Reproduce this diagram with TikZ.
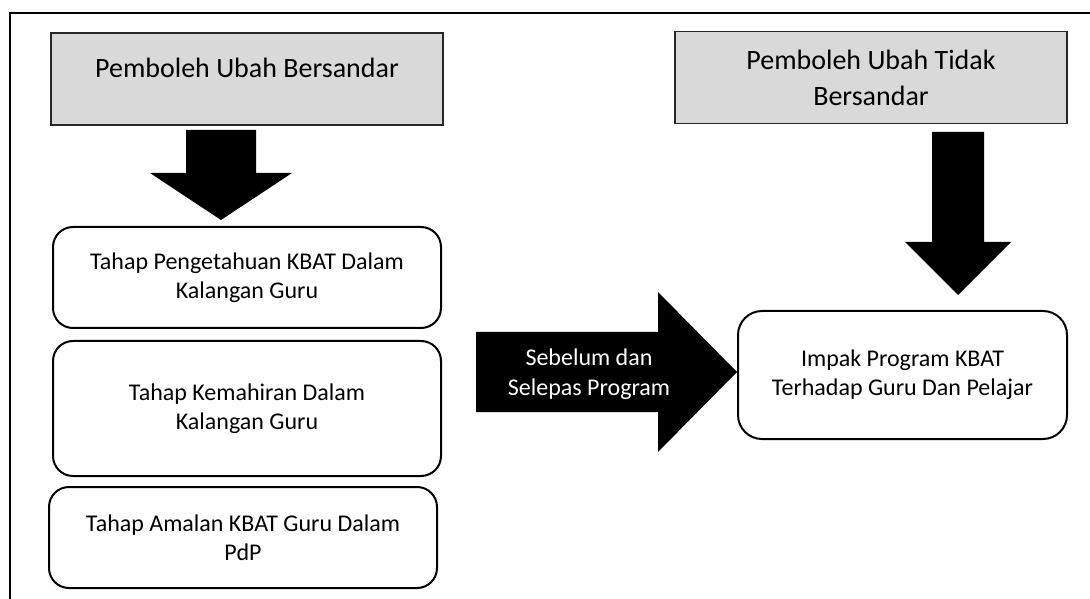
\documentclass[tikz,border=0pt]{standalone}
\usepackage{fontspec}
\setmainfont{Carlito}
\usepackage{tikz}

\begin{document}
\begin{tikzpicture}[
        x=0.75pt, y=-0.75pt,
        varbox/.style={rectangle, draw=black!85, line width=1.1pt, fill=black!15, minimum width=294pt, minimum height=69pt, inner sep=0pt, align=center, font=\fontsize{21}{27}\selectfont},
        stage/.style={rectangle, rounded corners=15pt, draw, line width=1.5pt, minimum width=291pt, minimum height=75.75pt, inner sep=0pt, align=center, font=\fontsize{18}{22}\selectfont},
        blockarrow/.style={fill=black}
    ]
    \useasboundingbox (0,0) rectangle (1090,599);

    % Frame
    \draw[line width=1.5pt] (1090,13) -| (10,599);

    % Variables
    \node[varbox, text depth=16.5pt] (dep) at (247,79) {Pemboleh Ubah Bersandar};
    \node[varbox] (indep) at (871,77.5) {Pemboleh Ubah Tidak\\Bersandar};

    % Stages
    \node[stage] (know) at (247,277.5) {Tahap Pengetahuan KBAT Dalam\\Kalangan Guru};
    \node[stage, minimum height=101.25pt] (skill) at (247,408.5) {Tahap Kemahiran Dalam\\Kalangan Guru};
    \node[stage] (prac) at (243,537.5) {Tahap Amalan KBAT Guru Dalam\\PdP};

    % Outcome
    \node[stage, rounded corners=18pt, minimum width=246.75pt, minimum height=96pt] (impact) at (902.5,375) {Impak Program KBAT\\Terhadap Guru Dan Pelajar};

    % Block arrows
    \fill[blockarrow] (186,130) -- (256,130) -- (256,173) -- (292,173) -- (221,220) -- (150,173) -- (186,173) -- cycle;
    \fill[blockarrow] (932,132) -- (984,132) -- (984,242) -- (1011,242) -- (958,295) -- (905,242) -- (932,242) -- cycle;
    \fill[blockarrow] (476,332) -- (658,332) -- (658,292) -- (737,372) -- (658,452) -- (658,412) -- (476,412) -- cycle;

    % Arrow text (cut at the shaft like the original)
    \begin{scope}
        \clip (476,332) rectangle (737,400);
        \node[align=center, text=white, font=\fontsize{18}{22.5}\selectfont] (during) at (589,374) {Sebelum dan\\Selepas Program};
    \end{scope}

\end{tikzpicture}
\end{document}
